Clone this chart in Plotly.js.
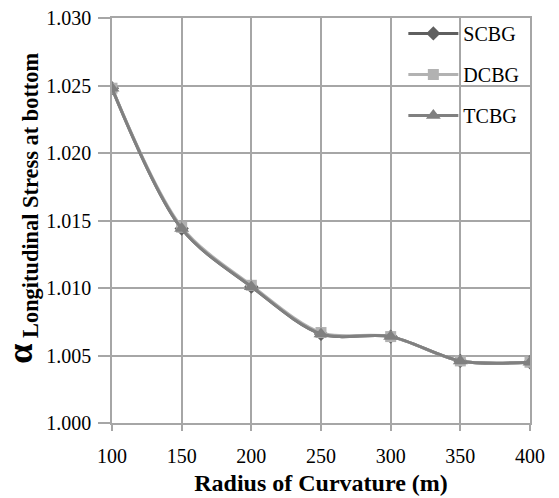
<!DOCTYPE html>
<html>
<head>
<meta charset="utf-8">
<script src="https://cdn.plot.ly/plotly-3.0.1.min.js"></script>
<style>html,body{margin:0;padding:0;background:#fff;}</style>
</head>
<body>
<div id="chart"></div>
<script>
var radius = [100, 150, 200, 250, 300, 350, 400];
var scbg = [1.0248, 1.0144, 1.0101, 1.0066, 1.0064, 1.0046, 1.0045];
var dcbg = [1.0248, 1.0145, 1.0102, 1.0067, 1.0064, 1.0046, 1.0045];
var tcbg = [1.0248, 1.0144, 1.0101, 1.0066, 1.0064, 1.0046, 1.0045];
var yTicks = [1.000, 1.005, 1.010, 1.015, 1.020, 1.025, 1.030];
var yTickText = ['1.000', '1.005', '1.010', '1.015', '1.020', '1.025', '1.030'];
var xTicks = [100, 150, 200, 250, 300, 350, 400];

var traces = [
  {x: radius, y: scbg, name: 'SCBG', mode: 'lines+markers', legendgroup: 'a',
   line: {color: '#5f5f5f', width: 3, shape: 'spline', smoothing: 0.9},
   marker: {symbol: 'diamond', size: 11, color: '#5f5f5f'}},
  {x: radius, y: dcbg, name: 'DCBG', mode: 'lines+markers', legendgroup: 'b',
   line: {color: '#b2b2b2', width: 3, shape: 'spline', smoothing: 0.9},
   marker: {symbol: 'square', size: 11, color: '#b2b2b2'}},
  {x: radius, y: tcbg, name: 'TCBG', mode: 'lines+markers', legendgroup: 'c',
   line: {color: '#808080', width: 3, shape: 'spline', smoothing: 0.9},
   marker: {symbol: 'triangle-up', size: 13, color: '#808080'}}
];

var layout = {
  width: 559, height: 498,
  margin: {l: 112, r: 29, t: 18, b: 75},
  paper_bgcolor: '#ffffff', plot_bgcolor: '#ffffff',
  showlegend: true,
  legend: {x: 0.697, y: 1.01, xanchor: 'left', yanchor: 'top', bgcolor: 'rgba(0,0,0,0)',
           font: {family: 'Liberation Serif', size: 20, color: '#000'}, tracegroupgap: 12,
           traceorder: 'grouped', itemwidth: 50},
  xaxis: {range: [100, 400], tickvals: xTicks, ticktext: xTicks.map(String),
          showgrid: true, gridcolor: '#a6a6a6', gridwidth: 1.5,
          showline: true, linecolor: '#a6a6a6', linewidth: 1.5, mirror: true,
          ticks: 'outside', ticklen: 6, tickcolor: '#a6a6a6', tickwidth: 1.5,
          ticklabelstandoff: 8,
          zeroline: false, tickfont: {family: 'Liberation Serif', size: 20, color: '#000'},
          title: {text: '<b>Radius of Curvature (m)</b>', font: {family: 'Liberation Serif', size: 24, color: '#000'}, standoff: 8}},
  yaxis: {range: [1.000, 1.030], tickvals: yTicks, ticktext: yTickText,
          showgrid: true, gridcolor: '#a6a6a6', gridwidth: 1.5,
          showline: true, linecolor: '#a6a6a6', linewidth: 1.5, mirror: true,
          ticks: 'outside', ticklen: 12, tickcolor: '#a6a6a6', tickwidth: 1.5,
          ticklabelstandoff: 3,
          zeroline: false, tickfont: {family: 'Liberation Serif', size: 20, color: '#000'}},
  annotations: [{
    xref: 'paper', yref: 'paper', x: -0.216, y: 0.531, xanchor: 'center', yanchor: 'middle',
    textangle: -90, showarrow: false,
    text: '<b><span style="font-size:36px">α</span><sub> Longitudinal Stress at bottom</sub></b>',
    font: {family: 'Liberation Serif', size: 32, color: '#000'}
  }]
};

Plotly.newPlot('chart', traces, layout, {displayModeBar: false});
</script>
</body>
</html>
